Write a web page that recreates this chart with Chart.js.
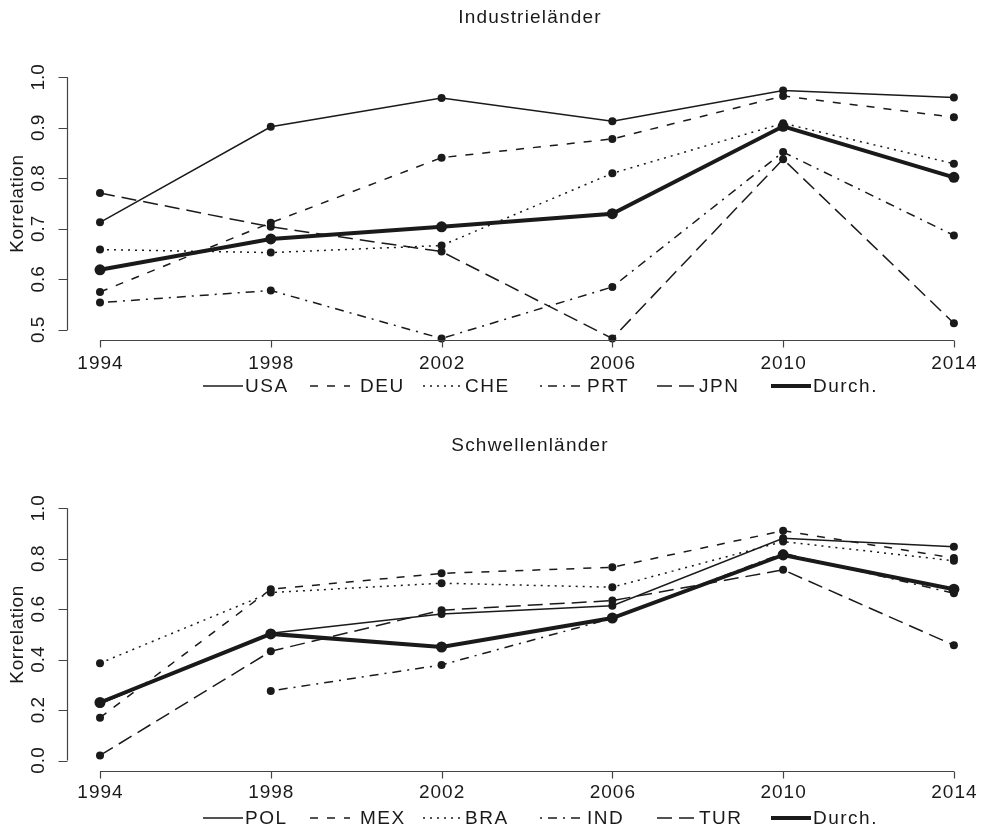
<!DOCTYPE html>
<html>
<head>
<meta charset="utf-8">
<script src="https://cdn.jsdelivr.net/npm/chart.js@4"></script>
<style>
  html, body { margin: 0; padding: 0; background: #fff; overflow: hidden; }
  .panel { position: absolute; left: 0; width: 988px; height: 419px; }
</style>
</head>
<body>
<div class="panel" style="top:0"><canvas id="topChart" width="988" height="419"></canvas></div>
<div class="panel" style="top:419px"><canvas id="bottomChart" width="988" height="419"></canvas></div>
<script>
// Jahre (x-Achse)
const years = [1994, 1998, 2002, 2006, 2010, 2014];

// Industrieländer
const industrieLabels = ["USA", "DEU", "CHE", "PRT", "JPN", "Durch."];
const usa = [0.713, 0.902, 0.959, 0.913, 0.974, 0.960];
const deu = [0.575, 0.712, 0.841, 0.878, 0.963, 0.921];
const che = [0.659, 0.653, 0.667, 0.810, 0.909, 0.829];
const prt = [0.554, 0.578, 0.483, 0.585, 0.852, 0.687];
const jpn = [0.771, 0.704, 0.655, 0.483, 0.838, 0.513];
const durchIndustrie = [0.619, 0.680, 0.704, 0.730, 0.903, 0.802];
const industrieTicks = [0.5, 0.6, 0.7, 0.8, 0.9, 1.0];

// Schwellenländer
const schwellenLabels = ["POL", "MEX", "BRA", "IND", "TUR", "Durch."];
const pol = [0.225, 0.505, 0.581, 0.614, 0.881, 0.848];
const mex = [0.170, 0.679, 0.742, 0.766, 0.911, 0.803];
const bra = [0.386, 0.666, 0.703, 0.687, 0.868, 0.792];
const ind = [null, 0.276, 0.379, 0.564, 0.822, 0.663];
const tur = [0.020, 0.433, 0.596, 0.634, 0.756, 0.457];
const durchSchwellen = [0.230, 0.502, 0.450, 0.565, 0.815, 0.679];
const schwellenTicks = [0.0, 0.2, 0.4, 0.6, 0.8, 1.0];

const INK = "#1a1a1a";
const FONT = '"Liberation Sans", Arial, sans-serif';

// R-artige Linientypen: solid, dashed, dotted, dotdash, longdash, dick
const lineStyles = [
  { dash: [], width: 1.5, radius: 4 },
  { dash: [8, 9], width: 1.5, radius: 4 },
  { dash: [2, 5], width: 1.5, radius: 4 },
  { dash: [2, 6, 9, 6], width: 1.5, radius: 4 },
  { dash: [15, 7], width: 1.5, radius: 4 },
  { dash: [], width: 4, radius: 5.5 },
];

// Legendenpositionen (Segmentanfang, Textanfang)
const legendSegX = [203, 310, 423, 540, 657, 771];
const legendTextX = [245, 360, 465, 587, 699, 813];

function toPoints(values) {
  return years.map((yr, i) => ({ x: yr, y: values[i] }));
}

function rAxesPlugin(opts) {
  return {
    id: "rAxes",
    afterDraw(chart) {
      const ctx = chart.ctx;
      const xs = chart.scales.x;
      const ys = chart.scales.y;
      const area = chart.chartArea;
      ctx.save();
      ctx.strokeStyle = "#444";
      ctx.lineWidth = 1.2;
      ctx.setLineDash([]);
      ctx.fillStyle = INK;

      // x-Achse
      const xb = Math.round(area.bottom) + 0.5;
      ctx.beginPath();
      ctx.moveTo(xs.getPixelForValue(years[0]), xb);
      ctx.lineTo(xs.getPixelForValue(years[years.length - 1]), xb);
      years.forEach((yr) => {
        const px = Math.round(xs.getPixelForValue(yr)) + 0.5;
        ctx.moveTo(px, xb);
        ctx.lineTo(px, xb + 7);
      });
      ctx.stroke();
      ctx.font = "19px " + FONT;
      ctx.letterSpacing = "1px";
      ctx.textAlign = "center";
      ctx.textBaseline = "middle";
      years.forEach((yr) => {
        ctx.fillText(String(yr), xs.getPixelForValue(yr) + 0.5, area.bottom + opts.tickLabelOffset);
      });

      // y-Achse
      const yl = Math.round(area.left) + 0.5;
      const ticks = opts.ticks;
      ctx.beginPath();
      ctx.moveTo(yl, ys.getPixelForValue(ticks[0]));
      ctx.lineTo(yl, ys.getPixelForValue(ticks[ticks.length - 1]));
      ticks.forEach((t) => {
        const py = Math.round(ys.getPixelForValue(t)) + 0.5;
        ctx.moveTo(yl, py);
        ctx.lineTo(yl - 9, py);
      });
      ctx.stroke();
      ctx.letterSpacing = "0px";
      ticks.forEach((t) => {
        ctx.save();
        ctx.translate(area.left - 28, ys.getPixelForValue(t));
        ctx.rotate(-Math.PI / 2);
        ctx.fillText(t.toFixed(1), 0, 0);
        ctx.restore();
      });

      // y-Titel
      ctx.save();
      ctx.translate(17.5, (area.top + area.bottom) / 2);
      ctx.rotate(-Math.PI / 2);
      ctx.letterSpacing = "0.6px";
      ctx.fillText("Korrelation", 0, 0);
      ctx.restore();

      // Titel
      ctx.letterSpacing = "1.2px";
      ctx.fillText(opts.title, 530, opts.titleY);

      // Legende
      ctx.textAlign = "left";
      ctx.letterSpacing = "1.5px";
      opts.labels.forEach((lab, i) => {
        const st = lineStyles[i];
        ctx.beginPath();
        ctx.setLineDash(st.dash);
        ctx.lineWidth = st.width;
        ctx.strokeStyle = INK;
        ctx.moveTo(legendSegX[i], opts.legendY);
        ctx.lineTo(legendSegX[i] + 40, opts.legendY);
        ctx.stroke();
        ctx.setLineDash([]);
        ctx.fillText(lab, legendTextX[i], opts.legendY + 1);
      });
      ctx.restore();
    },
  };
}

function makeChart(id, labels, series, yMin, yMax, padding, opts) {
  const datasets = series.map((vals, i) => ({
    label: labels[i],
    data: toPoints(vals),
    borderColor: INK,
    backgroundColor: INK,
    borderWidth: lineStyles[i].width,
    borderDash: lineStyles[i].dash,
    pointRadius: lineStyles[i].radius,
    pointBackgroundColor: INK,
    pointBorderWidth: 0,
    tension: 0,
    fill: false,
    spanGaps: false,
    clip: false,
  }));
  return new Chart(document.getElementById(id), {
    type: "line",
    data: { datasets },
    options: {
      responsive: false,
      animation: false,
      devicePixelRatio: 1,
      layout: { padding },
      plugins: { legend: { display: false }, tooltip: { enabled: false } },
      scales: {
        x: { type: "linear", min: 1993.22, max: 2014.67, display: false },
        y: { type: "linear", min: yMin, max: yMax, display: false },
      },
    },
    plugins: [rAxesPlugin(opts)],
  });
}

makeChart(
  "topChart",
  industrieLabels,
  [usa, deu, che, prt, jpn, durchIndustrie],
  0.48, 1.02,
  { left: 66.7, right: 0, top: 67.2, bottom: 79 },
  { ticks: industrieTicks, title: "Industrieländer", titleY: 18, tickLabelOffset: 24, legendY: 386, labels: industrieLabels }
);

makeChart(
  "bottomChart",
  schwellenLabels,
  [pol, mex, bra, ind, tur, durchSchwellen],
  -0.04, 1.04,
  { left: 66.7, right: 0, top: 79.2, bottom: 67.4 },
  { ticks: schwellenTicks, title: "Schwellenländer", titleY: 27, tickLabelOffset: 22, legendY: 399, labels: schwellenLabels }
);
</script>
</body>
</html>
